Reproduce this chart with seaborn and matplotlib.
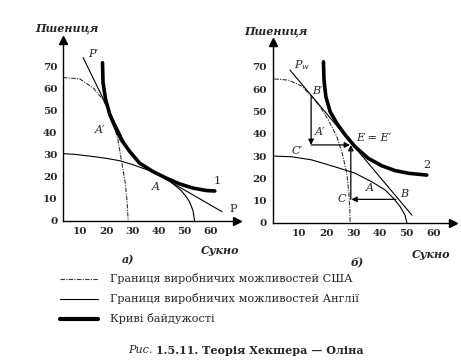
import matplotlib
matplotlib.use("Agg")
import matplotlib.pyplot as plt
import seaborn as sns
from matplotlib.lines import Line2D

W, H = 461, 360

# panel a) values
left_us_x = [3.5, 9.9, 15.0, 18.8, 21.4, 23.0, 24.5, 25.8, 27.2, 28.0, 28.4]
left_us_y = [65.0, 64.4, 60.3, 55.0, 49.0, 43.5, 36.8, 27.7, 18.0, 9.0, 0.0]
left_uk_x = [3.5, 8.0, 15.0, 20.0, 25.2, 30.0, 36.6, 40.5, 44.3, 48.5, 50.6, 51.8, 52.6, 53.2, 53.8]
left_uk_y = [30.5, 30.2, 29.2, 28.4, 27.3, 25.6, 22.8, 20.6, 18.0, 14.0, 11.0, 8.8, 6.5, 4.5, 0.0]
left_ic_x = [18.6, 18.8, 19.8, 21.4, 23.3, 25.8, 29.0, 32.8, 37.9, 43.0, 48.1, 53.2, 58.3, 61.5]
left_ic_y = [71.7, 62.6, 55.0, 48.2, 42.9, 36.8, 31.5, 26.2, 22.4, 19.4, 16.8, 14.9, 13.8, 13.6]
left_p1_x = [11.2, 28.5]
left_p1_y = [74.0, 32.0]
left_p_x = [35.4, 64.3]
left_p_y = [24.0, 4.2]

# panel б)
right_us_x = [0.7, 5.9, 10.9, 14.4, 17.7, 20.8, 24.0, 26.0, 27.7, 28.5, 28.9, 28.9]
right_us_y = [64.6, 64.1, 61.4, 57.0, 52.2, 46.2, 38.7, 31.3, 22.3, 13.3, 4.3, 0.0]
right_uk_x = [0.7, 7.2, 14.6, 23.3, 30.8, 37.0, 42.0, 45.1, 47.6, 49.4, 50.1]
right_uk_y = [30.0, 29.7, 28.3, 25.2, 22.3, 18.5, 14.8, 11.1, 7.3, 3.6, 0.0]
right_ic_x = [19.0, 19.2, 19.9, 21.5, 24.0, 27.1, 30.8, 35.7, 40.7, 45.7, 50.7, 55.7, 57.5]
right_ic_y = [72.3, 64.1, 56.6, 49.9, 44.7, 39.5, 34.2, 29.0, 25.7, 23.5, 22.3, 21.7, 21.5]
right_pw_x = [6.5, 52.0]
right_pw_y = [68.6, 3.5]

x_ticks = [10, 20, 30, 40, 50, 60]
y_ticks = [0, 10, 20, 30, 40, 50, 60, 70]

legend_labels = [
    "Границя виробничих можливостей США",
    "Границя виробничих можливостей Англії",
    "Криві байдужості",
]

sns.set_theme(style="white")
plt.rcParams["font.family"] = ["DejaVu Serif"]
plt.rcParams["mathtext.fontset"] = "dejavuserif"

SERIF = "DejaVu Serif"
US_STYLE = dict(color="#333333", linewidth=0.8, linestyle=(0, (4, 1.2, 1, 1.2)))
UK_STYLE = dict(color="black", linewidth=0.8)
IC_STYLE = dict(color="black", linewidth=2.6)


def px(x, y):
    return x / W, 1 - y / H


def setup_axes(ax, xlim, ylim):
    ax.set_xlim(*xlim)
    ax.set_ylim(*ylim)
    sns.despine(ax=ax)
    for side in ("left", "bottom"):
        ax.spines[side].set_linewidth(1.0)
        ax.spines[side].set_color("black")
    ax.set_xticks(x_ticks)
    ax.set_yticks(y_ticks)
    ax.tick_params(length=0, pad=4, labelsize=7.5)
    for lab in ax.get_xticklabels() + ax.get_yticklabels():
        lab.set_fontweight("bold")
        lab.set_family(SERIF)
    ax.set_xlabel("")
    ax.set_ylabel("")
    ax.patch.set_alpha(0)
    # arrow heads at the end of axes
    ax.plot(1, 0, ">", color="black", markersize=5.5, transform=ax.transAxes, clip_on=False)
    ax.plot(0, 1, "^", color="black", markersize=5.5, transform=ax.transAxes, clip_on=False)


def curve(ax, xs, ys, style):
    sns.lineplot(x=xs, y=ys, ax=ax, sort=False, estimator=None, legend=False, **style)
    ax.lines[-1].set_solid_joinstyle("round")


def label(ax, x, y, s, italic=True, **kw):
    ax.text(x, y, s, fontsize=8, family=SERIF, style="italic" if italic else "normal",
            ha=kw.pop("ha", "center"), va=kw.pop("va", "center"), clip_on=False, **kw)


fig = plt.figure(figsize=(W / 100, H / 100), dpi=100)
fig.patch.set_facecolor("white")

ax1 = fig.add_axes([63 / W, (H - 221) / H, 174 / W, 181 / H])
ax2 = fig.add_axes([272.5 / W, (H - 223) / H, 180.5 / W, 181.3 / H])

# panel a)
curve(ax1, left_us_x, left_us_y, US_STYLE)
curve(ax1, left_uk_x, left_uk_y, UK_STYLE)
curve(ax1, left_p1_x, left_p1_y, UK_STYLE)
curve(ax1, left_p_x, left_p_y, UK_STYLE)
curve(ax1, left_ic_x, left_ic_y, IC_STYLE)
setup_axes(ax1, (3.5, 70), (0, 82))
label(ax1, 15.0, 75.5, "P′")
label(ax1, 17.6, 41.4, "A′")
label(ax1, 38.9, 15.6, "A")
label(ax1, 62.3, 18.2, "1", italic=False)
label(ax1, 68.4, 5.5, "P", italic=False)

# panel б)
curve(ax2, right_us_x, right_us_y, US_STYLE)
curve(ax2, right_uk_x, right_uk_y, UK_STYLE)
curve(ax2, right_pw_x, right_pw_y, UK_STYLE)
curve(ax2, right_ic_x, right_ic_y, IC_STYLE)
setup_axes(ax2, (0, 67.3), (0, 81.3))

arrow = dict(arrowstyle="-|>", color="black", lw=0.9, mutation_scale=8, shrinkA=0, shrinkB=0)
ax2.annotate("", xy=(14.4, 35.0), xytext=(14.4, 56.6), arrowprops=arrow)
ax2.annotate("", xy=(28.9, 35.0), xytext=(14.4, 35.0), arrowprops=arrow)
ax2.annotate("", xy=(29.4, 10.6), xytext=(46.0, 10.6), arrowprops=arrow)
ax2.annotate("", xy=(29.2, 35.0), xytext=(29.2, 10.6), arrowprops=arrow)

label(ax2, 11.0, 70.8, "$P_w$")
label(ax2, 14.8, 59.0, "B′", ha="left")
label(ax2, 17.7, 41.0, "A′")
label(ax2, 31.2, 38.2, "E = E′", ha="left")
label(ax2, 9.3, 32.3, "C′")
label(ax2, 36.4, 15.6, "A")
label(ax2, 25.8, 10.6, "C")
label(ax2, 49.0, 12.8, "B")
label(ax2, 57.7, 26.0, "2", italic=False)

# axis titles and panel marks
for (x, y), s in [((66.7, 28.3), "Пшениця"), ((275.8, 31.7), "Пшениця"),
                  ((220, 250), "Сукно"), ((431, 254), "Сукно")]:
    fig.text(*px(x, y), s, fontsize=8, family=SERIF, style="italic", fontweight="bold",
             ha="center", va="center")
fig.text(*px(128, 260), "а)", fontsize=8, family=SERIF, style="italic", fontweight="bold",
         ha="center", va="center")
fig.text(*px(357, 262), "б)", fontsize=8, family=SERIF, style="italic", fontweight="bold",
         ha="center", va="center")

# legend under the panels
legend_styles = [US_STYLE, UK_STYLE, dict(IC_STYLE, linewidth=3.0)]
legend_y = [279, 299, 319]
for s, st, y in zip(legend_labels, legend_styles, legend_y):
    x0, yy = px(60, y)
    x1, _ = px(98, y)
    fig.add_artist(Line2D([x0, x1], [yy, yy], transform=fig.transFigure, **st))
    fig.text(*px(110, y), s, fontsize=8.1, family=SERIF, ha="left", va="center")

# caption
fig.text(*px(153, 350), "Рис.", fontsize=8, family=SERIF, style="italic", ha="right", va="center")
fig.text(*px(156, 350), "1.5.11. Теорія Хекшера — Оліна", fontsize=8, family=SERIF,
         fontweight="bold", ha="left", va="center")

fig.savefig("out.png", dpi=100, facecolor="white")
